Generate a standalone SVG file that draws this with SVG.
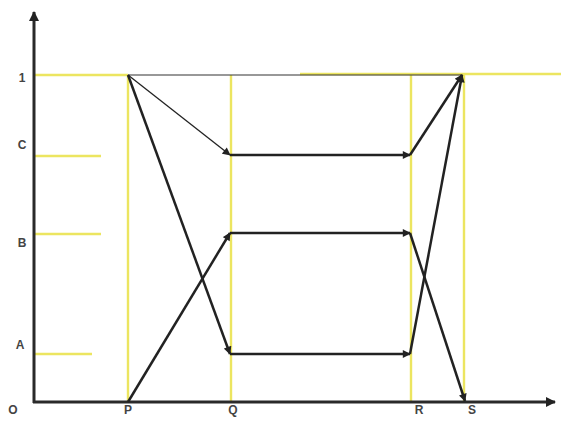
<svg xmlns="http://www.w3.org/2000/svg" width="561" height="421" viewBox="0 0 561 421">
<defs>
<marker id="ah" viewBox="0 0 10 10" refX="9" refY="5" markerWidth="10" markerHeight="8" markerUnits="userSpaceOnUse" orient="auto"><path d="M0,0 L10,5 L0,10 z" fill="#222"/></marker>
<marker id="axh" viewBox="0 0 10 10" refX="9" refY="5" markerWidth="12" markerHeight="10" markerUnits="userSpaceOnUse" orient="auto"><path d="M0,0 L10,5 L0,10 z" fill="#222"/></marker>
</defs>
<style>
.y{stroke:#ece560;stroke-width:2.4;fill:none}
.ax{stroke:#2a2a2a;stroke-width:3;fill:none}
.c{stroke:#222;stroke-width:2.5;fill:none}
.t{stroke:#222;stroke-width:1.3;fill:none}
.lb{font-family:"Liberation Sans",Arial,sans-serif;font-weight:bold;font-size:12px;fill:#444;text-anchor:middle}
</style>
<g id="guides">
<line class="y" x1="35" y1="75" x2="128" y2="75"/>
<line class="y" x1="300" y1="74" x2="561" y2="74"/>
<line class="y" x1="35" y1="156" x2="101" y2="156"/>
<line class="y" x1="35" y1="234" x2="101" y2="234"/>
<line class="y" x1="35" y1="354" x2="92" y2="354"/>
<line class="y" x1="128" y1="75" x2="128" y2="401"/>
<line class="y" x1="231" y1="75" x2="231" y2="401"/>
<line class="y" x1="411" y1="75" x2="411" y2="401"/>
<line class="y" x1="464" y1="75" x2="464" y2="401"/>
</g>
<g id="axes">
<line class="ax" x1="34" y1="403" x2="34" y2="12" marker-end="url(#axh)"/>
<line class="ax" x1="33" y1="402" x2="555" y2="402" marker-end="url(#axh)"/>
</g>
<g id="labels">
<text class="lb" x="22" y="82">1</text>
<text class="lb" x="22" y="149">C</text>
<text class="lb" x="22" y="247">B</text>
<text class="lb" x="20" y="349">A</text>
<text class="lb" x="13" y="414">O</text>
<text class="lb" x="128" y="414">P</text>
<text class="lb" x="233" y="414">Q</text>
<text class="lb" x="419" y="414">R</text>
<text class="lb" x="472" y="414">S</text>
</g>
<g id="connectors">
<line x1="128" y1="75" x2="462" y2="75" stroke="#333" stroke-width="1.2"/>
<line class="t" x1="128" y1="75" x2="230" y2="155" marker-end="url(#ah)"/>
<line class="c" x1="128" y1="75" x2="230" y2="354" marker-end="url(#ah)"/>
<line class="c" x1="128" y1="402" x2="230" y2="233" marker-end="url(#ah)"/>
<line class="c" x1="230" y1="155" x2="410" y2="155" marker-end="url(#ah)"/>
<line class="c" x1="230" y1="233" x2="410" y2="233" marker-end="url(#ah)"/>
<line class="c" x1="230" y1="354" x2="410" y2="354" marker-end="url(#ah)"/>
<line class="c" x1="410" y1="155" x2="462" y2="75" marker-end="url(#ah)"/>
<line class="c" x1="410" y1="354" x2="462" y2="75" marker-end="url(#ah)"/>
<line class="c" x1="410" y1="233" x2="465" y2="401" marker-end="url(#ah)"/>
</g>
</svg>
